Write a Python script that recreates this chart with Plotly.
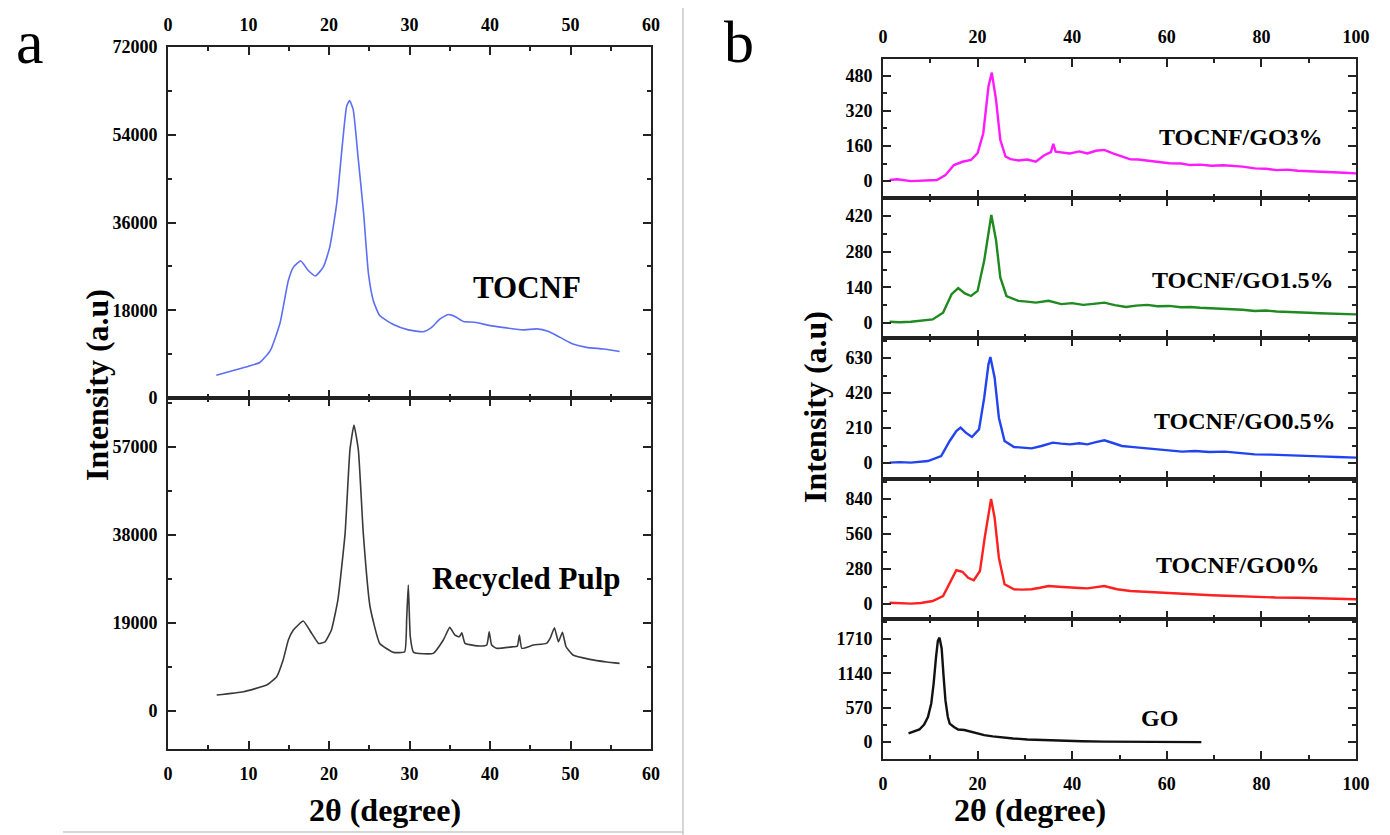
import plotly.graph_objects as go

# ---------------- data ----------------
# Panel a – TOCNF
tocnf_x = [6.0, 8.0, 10.0, 11.4, 12.7, 13.9, 14.95, 15.6, 16.5, 17.4, 18.3, 19.3, 20.1, 20.96, 21.6, 22.2, 22.55, 23.0,
           23.6, 24.3, 24.9, 25.5, 26.3, 28.0, 29.85, 31.7, 32.75, 33.8, 34.8, 35.2, 35.65, 36.7, 38.1, 40.0, 42.05,
           44.1, 45.8, 47.2, 48.7, 50.3, 52.0, 54.1, 56.1]
tocnf_y = [4680, 5600, 6500, 7280, 9700, 15270, 24100, 26900, 28120, 26200, 25030, 26900, 31000, 39960, 50960, 59900,
           61000, 59200, 49570, 37900, 25500, 20000, 16900, 15060, 13970, 13600, 14500, 16240, 17120, 17000, 16710,
           15680, 15530, 14850, 14380, 13970, 14170, 13680, 12440, 11080, 10380, 10050, 9550]

# Panel a – Recycled pulp
rp_x = [6.05, 9.35, 12.26, 13.5, 14.3, 14.95, 15.57, 16.8, 17.85, 18.7, 19.5, 20.3, 21.1, 22.0, 22.6, 23.1, 23.65,
        24.26, 25.1, 26.3, 28.0, 29.4, 29.65, 29.85, 30.1, 30.5, 32.95, 34.2, 35.0, 35.65, 36.2, 36.5, 36.9, 38.75,
        39.6, 39.9, 40.2, 40.8, 42.9, 43.4, 43.65, 43.95, 45.4, 47.0, 47.5, 48.0, 48.5, 49.0, 49.45, 50.3, 52.4,
        54.5, 56.1]
rp_y = [3450, 4170, 5610, 7400, 11000, 15330, 17490, 19430, 16770, 14600, 14960, 17490, 23960, 38360, 56350, 61750,
        56350, 38360, 22520, 14600, 12670, 12800, 20000, 27200, 16000, 12670, 12450, 15330, 18060, 16400, 16040,
        16900, 14600, 14030, 14250, 17120, 14250, 13540, 13880, 14000, 16400, 13540, 14250, 14600, 15800, 17990,
        14960, 16990, 13880, 12090, 11160, 10600, 10300]

# Panel b – TOCNF/GO3%
m_x = [1.4, 3, 5.9, 8, 10, 11.4, 13.2, 15.0, 16.8, 18.6, 20.0, 21.2, 22.3, 23.0, 23.9, 24.8, 25.9, 27, 28.6, 30.5,
       32.3, 34.1, 35.5, 36.0, 36.5, 38, 39.5, 41.5, 43.2, 45, 46.8, 48.6, 50.5, 52.3, 54, 55.9, 58, 60.5, 63, 65.0,
       67, 69.5, 72, 74.1, 76, 78.6, 81, 83.2, 85.5, 87.7, 90, 92.3, 95, 97.5, 100]
m_y = [5, 8, 0, 2, 3, 5, 27, 73, 88, 96, 127, 218, 431, 494, 370, 188, 112, 100, 94, 98, 88, 118, 132, 170, 134,
       130, 126, 135, 126, 138, 142, 126, 112, 99, 98, 93, 90, 81, 80, 73, 75, 70, 72, 69, 66, 58, 56, 50, 52, 47,
       44, 41, 40, 38, 35]

# Panel b – TOCNF/GO1.5%
g_x = [1.4, 3.5, 5.9, 8, 10.5, 12.7, 14.5, 15.9, 17.3, 18.6, 20.0, 21.4, 22.5, 22.9, 23.9, 24.8, 26.1, 28.6, 30.5,
       32.3, 35.0, 37.7, 40, 42.3, 44.5, 46.8, 49, 51.4, 53.5, 55.9, 58, 60.5, 63, 65.0, 67, 69.5, 72, 74.1, 76,
       78.6, 81, 83.2, 85.5, 87.7, 90, 92.3, 95, 97.5, 100]
g_y = [5, 3, 5, 8, 14, 40, 113, 137, 116, 106, 126, 245, 364, 424, 325, 179, 106, 87, 84, 80, 87, 74, 78, 71, 75,
       80, 70, 63, 68, 71, 66, 67, 62, 63, 60, 58, 57, 54, 52, 47, 49, 45, 44, 41, 40, 38, 37, 35, 34]

# Panel b – TOCNF/GO0.5%
b_x = [1.4, 3.5, 5.9, 8, 9.5, 12.3, 14.1, 15.5, 16.4, 17.5, 18.8, 20.3, 21.4, 22.3, 22.7, 23.6, 24.5, 25.7, 27.7,
       29.5, 31.4, 33.5, 35.9, 37.7, 39.5, 41.5, 43.2, 45, 46.8, 48.6, 50.5, 53, 55.9, 58.5, 61, 63.2, 66, 69, 72.3,
       75.5, 78.6, 82, 85.0, 88.5, 92.3, 96, 100]
b_y = [2, 5, 2, 6, 12, 42, 132, 192, 212, 182, 156, 202, 392, 592, 636, 512, 272, 132, 96, 92, 88, 102, 122, 116,
       112, 118, 112, 125, 136, 120, 102, 95, 88, 80, 75, 68, 72, 66, 68, 60, 52, 50, 48, 44, 40, 36, 32]

# Panel b – TOCNF/GO0%
r_x = [1.4, 3.5, 5.9, 8, 10.5, 12.7, 14.1, 15.5, 16.8, 18.0, 19.2, 20.5, 21.5, 22.5, 22.85, 23.6, 24.5, 25.7, 27.7,
       29.5, 31.4, 33.2, 35.0, 37.2, 39.5, 41.5, 43.2, 45, 46.8, 48.2, 49.5, 52.3, 55.9, 58.5, 61.4, 65, 69.5, 74,
       78.6, 83, 87.7, 92, 96, 100]
r_y = [10, 5, 3, 8, 24, 64, 170, 270, 258, 210, 190, 264, 530, 770, 840, 690, 370, 158, 118, 115, 118, 130, 144,
       138, 130, 128, 125, 135, 144, 130, 118, 104, 96, 90, 82, 78, 70, 64, 56, 52, 50, 44, 40, 38]

# Panel b – GO
go_x = [5.4, 6.5, 7.7, 8.7, 9.5, 10.2, 10.7, 11.2, 11.6, 11.95, 12.4, 12.8, 13.2, 13.7, 14.1, 15.0, 15.9, 17.2,
        18.6, 20.0, 21.4, 23.2, 25.0, 27.5, 30.5, 34, 37.7, 42, 46.8, 52, 56, 62, 67.3]
go_y = [143, 170, 209, 290, 416, 640, 965, 1400, 1678, 1730, 1550, 1100, 690, 420, 307, 250, 209, 200, 170, 140,
        115, 95, 77, 60, 44, 32, 21, 14, 8, 5, 3, 2, 0]

labels_a = ["TOCNF", "Recycled Pulp"]
labels_b = ["TOCNF/GO3%", "TOCNF/GO1.5%", "TOCNF/GO0.5%", "TOCNF/GO0%", "GO"]

# ---------------- layout helpers ----------------
# the page body keeps its default 8 px margin, so the figure is drawn 8 px in from the window corner
OFF = 8
W, H = 1390 - OFF, 835 - OFF
SERIF = "Liberation Serif, Times New Roman, serif"
AX = "#222222"


def px(x):
    return (x - OFF) / W


def py(y):
    return 1 - (y - OFF) / H


tickfont = dict(family=SERIF, size=18, color="black", weight="bold")


def xaxis(domain, anchor, rng, dtick, minor, side, show):
    return dict(domain=domain, anchor=anchor, range=rng, tick0=0, dtick=dtick, ticks="inside", ticklen=8,
                tickwidth=2, tickcolor=AX, showline=True, linecolor=AX, linewidth=2, mirror="allticks",
                showgrid=False, zeroline=False, side=side, showticklabels=show, tickfont=tickfont,
                ticklabelstandoff=7, automargin=False, tickformat="d",
                minor=dict(ticks="inside", ticklen=4, tickwidth=2, tickcolor=AX, dtick=minor, tick0=0,
                           showgrid=False))


def yaxis(domain, anchor, rng, dtick, minor):
    return dict(domain=domain, anchor=anchor, range=rng, tick0=0, dtick=dtick, ticks="inside", ticklen=8,
                tickwidth=2, tickcolor=AX, showline=True, linecolor=AX, linewidth=2, mirror="allticks",
                showgrid=False, zeroline=False, tickfont=tickfont, ticklabelstandoff=5, automargin=False,
                tickformat="d",
                minor=dict(ticks="inside", ticklen=4, tickwidth=2, tickcolor=AX, dtick=minor, tick0=0,
                           showgrid=False))


fig = go.Figure()

# panel a traces
fig.add_trace(go.Scatter(x=tocnf_x, y=tocnf_y, mode="lines",
                         line=dict(color="#5c6ef2", width=1.6, shape="spline", smoothing=0.5),
                         xaxis="x", yaxis="y", showlegend=False))
fig.add_trace(go.Scatter(x=rp_x, y=rp_y, mode="lines",
                         line=dict(color="#3a3a3a", width=1.6, shape="spline", smoothing=0.4),
                         xaxis="x2", yaxis="y2", showlegend=False))

# panel b traces
series_b = [(m_x, m_y, "#ff1aff"), (g_x, g_y, "#1f8a1f"), (b_x, b_y, "#2244ee"), (r_x, r_y, "#ff2020"),
            (go_x, go_y, "#111111")]
for i, (xs, ys, col) in enumerate(series_b):
    k = i + 3
    fig.add_trace(go.Scatter(x=xs, y=ys, mode="lines", line=dict(color=col, width=2.4),
                             xaxis=f"x{k}", yaxis=f"y{k}", showlegend=False))

# axes panel a
xa_dom = [px(168), px(651)]
fig.update_layout(
    xaxis=xaxis(xa_dom, "y", [0, 60], 10, 5, "top", True),
    yaxis=yaxis([py(398), py(47)], "x", [0, 72000], 18000, 9000),
    xaxis2=xaxis(xa_dom, "y2", [0, 60], 10, 5, "bottom", True),
    yaxis2=yaxis([py(749), py(398)], "x2", [-8200, 67600], 19000, 9500),
)

# axes panel b
xb_dom = [px(883), px(1356)]
bounds = [59, 198, 338, 479, 619, 759]
ranges_b = [[-77, 556], [-59, 491], [-96, 750], [-120, 1000], [-280, 2039]]
dticks_b = [160, 140, 210, 280, 570]
for i in range(5):
    k = i + 3
    side = "top" if i == 0 else "bottom"
    show = i == 0 or i == 4
    fig.update_layout({
        f"xaxis{k}": xaxis(xb_dom, f"y{k}", [0, 100], 20, 10, side, show),
        f"yaxis{k}": yaxis([py(bounds[i + 1]), py(bounds[i])], f"x{k}", ranges_b[i], dticks_b[i],
                           dticks_b[i] / 2),
    })

ann_font_a = dict(family=SERIF, size=31, color="black", weight="bold")
ann_font_b = dict(family=SERIF, size=24, color="black", weight="bold")
title_font = dict(family=SERIF, size=32, color="black", weight="bold")

annotations = [
    dict(text=labels_a[0], x=px(527), y=py(287), font=ann_font_a),
    dict(text=labels_a[1], x=px(526), y=py(578), font=ann_font_a),
    dict(text=labels_b[0], x=px(1241), y=py(137), font=ann_font_b),
    dict(text=labels_b[1], x=px(1243), y=py(280), font=ann_font_b),
    dict(text=labels_b[2], x=px(1245), y=py(421), font=ann_font_b),
    dict(text=labels_b[3], x=px(1238), y=py(565), font=ann_font_b),
    dict(text=labels_b[4], x=px(1159), y=py(718), font=ann_font_b),
    dict(text="Intensity (a.u)", x=px(97), y=py(385), textangle=-90, font=title_font),
    dict(text="Intensity (a.u)", x=px(815), y=py(407), textangle=-90, font=title_font),
    dict(text="2θ (degree)", x=px(385), y=py(810), font=title_font),
    dict(text="2θ (degree)", x=px(1030), y=py(810), font=title_font),
    dict(text="a", x=px(30), y=py(42), font=dict(family=SERIF, size=62, color="black")),
    dict(text="b", x=px(739), y=py(42), font=dict(family=SERIF, size=60, color="black")),
]
for a in annotations:
    a.update(xref="paper", yref="paper", showarrow=False, xanchor="center", yanchor="middle")

shapes = [
    dict(type="line", xref="paper", yref="paper", x0=px(683), x1=px(683), y0=0, y1=py(8),
         line=dict(color="#c8c8c8", width=1.5)),
    dict(type="line", xref="paper", yref="paper", x0=px(63), x1=px(683), y0=py(832), y1=py(832),
         line=dict(color="#c8c8c8", width=1.5)),
]

fig.update_layout(width=W, height=H, margin=dict(l=0, r=0, t=0, b=0), paper_bgcolor="white",
                  plot_bgcolor="white", annotations=annotations, shapes=shapes, showlegend=False)

fig.write_html("out.html")
